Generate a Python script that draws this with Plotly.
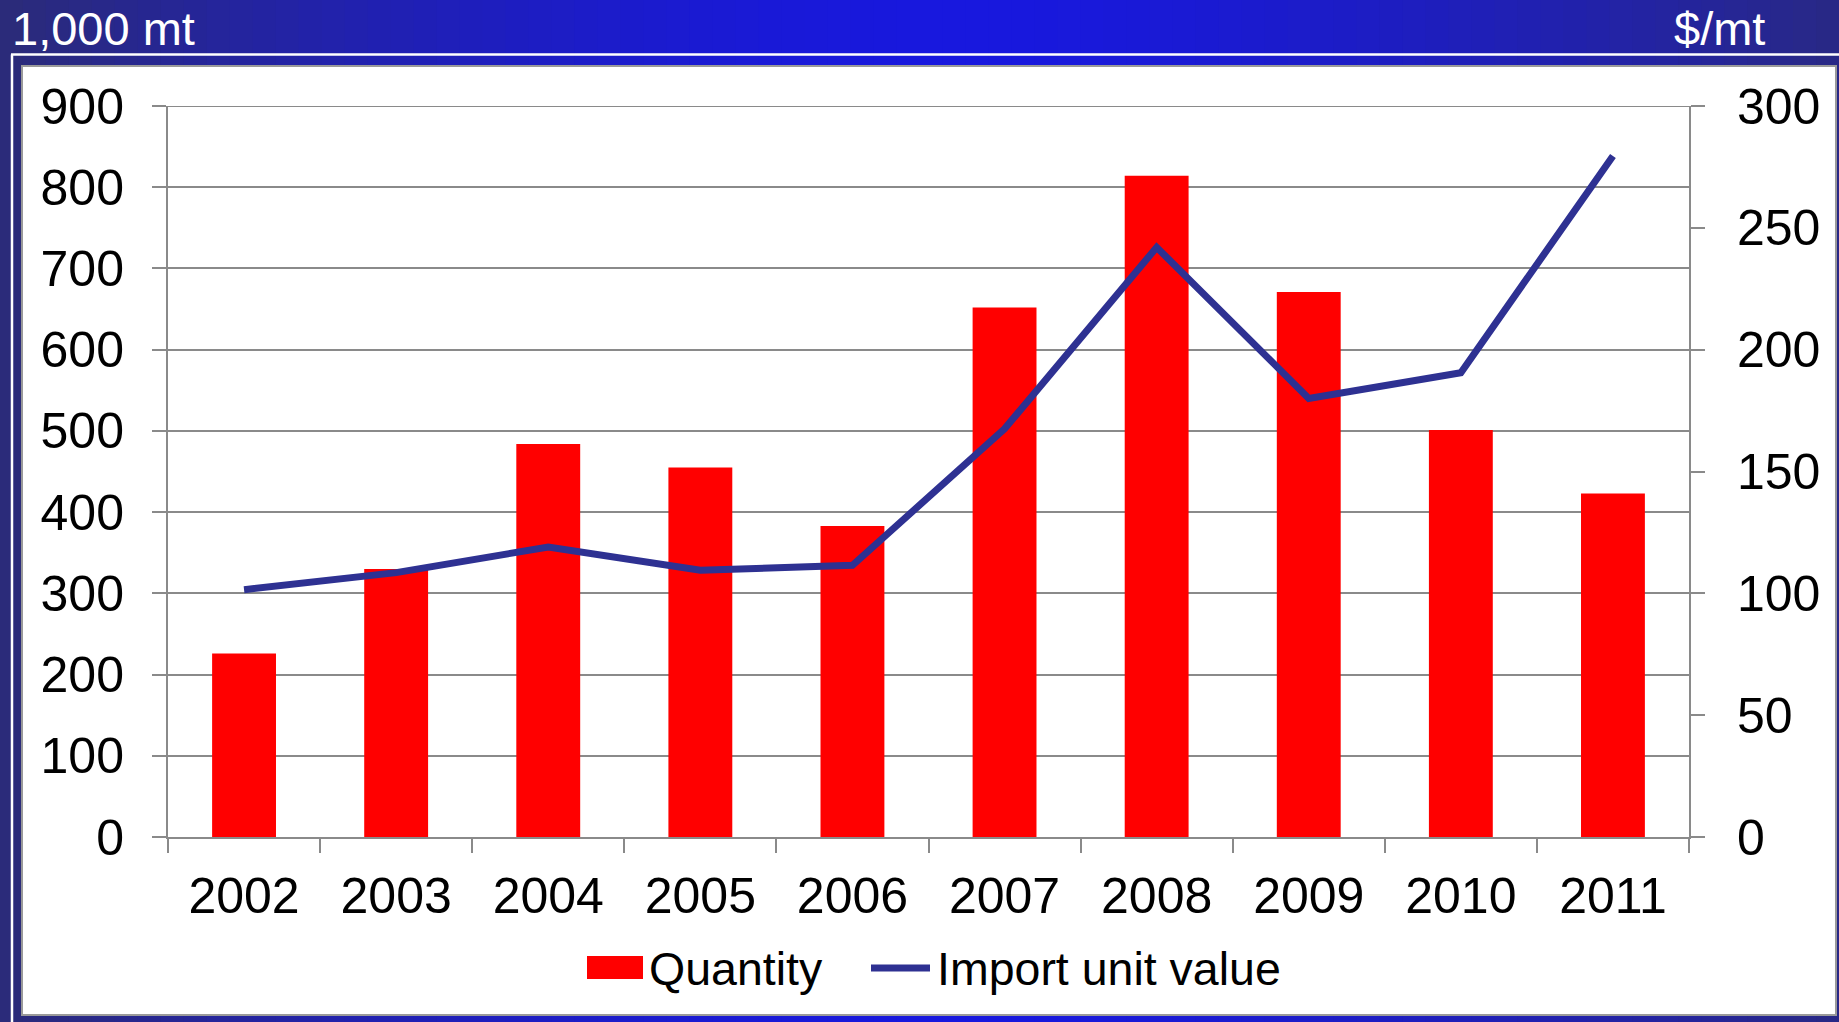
import plotly.graph_objects as go

years = ["2002", "2003", "2004", "2005", "2006", "2007", "2008", "2009", "2010", "2011"]
quantity = [226, 330, 484, 455, 383, 652, 814, 671, 501, 423]
unit_value = [101.5, 108.5, 119, 109.5, 111.5, 167.5, 242, 180, 190.5, 279.5]
left_ticks = [0, 100, 200, 300, 400, 500, 600, 700, 800, 900]
right_ticks = [0, 50, 100, 150, 200, 250, 300]

W, H = 1839, 1022
L, R, T, B = 168, 150, 106, 185
PW, PH = W - L - R, H - T - B

def px(x):
    return (x - L) / PW

def py(y):
    return (H - B - y) / PH

FONT = "Liberation Sans, Arial, sans-serif"
GRAY = "#8a8a8a"
LINE_COLOR = "#2E3192"
TICK_SIZE = 50

fig = go.Figure()
fig.add_trace(go.Bar(x=years, y=quantity, marker=dict(color="#FF0000", line=dict(width=0)),
                     name="Quantity", showlegend=False))
fig.add_trace(go.Scatter(x=years, y=unit_value, yaxis="y2", mode="lines",
                         line=dict(color=LINE_COLOR, width=7), name="Import unit value",
                         showlegend=False))

shapes = []
# horizontal gradient background
N = 80
def lerp(a, b, t):
    return int(round(a + (b - a) * t))
edge = (43, 43, 120)
mid = (24, 24, 222)
for i in range(N):
    t = (i + 0.5) / N
    d = abs(t - 0.52) / 0.52
    d = min(d, 1.0) ** 1.6
    c = tuple(lerp(mid[k], edge[k], d) for k in range(3))
    x0 = W * i / N
    x1 = W * (i + 1) / N + 1
    shapes.append(dict(type="rect", xref="paper", yref="paper", layer="below",
                       x0=px(x0), x1=px(x1), y0=py(H), y1=py(0),
                       fillcolor="rgb(%d,%d,%d)" % c, line=dict(width=0)))
# white frame lines
shapes.append(dict(type="line", xref="paper", yref="paper", layer="below",
                   x0=px(11), x1=px(W), y0=py(54.5), y1=py(54.5),
                   line=dict(color="white", width=2.5)))
shapes.append(dict(type="line", xref="paper", yref="paper", layer="below",
                   x0=px(12), x1=px(12), y0=py(54.5), y1=py(H),
                   line=dict(color="white", width=2.5)))
# white panel
shapes.append(dict(type="rect", xref="paper", yref="paper", layer="below",
                   x0=px(22), x1=px(1836), y0=py(1015), y1=py(66),
                   fillcolor="white", line=dict(color="#9a9a9a", width=2)))
# top gridline at the axis maximum
shapes.append(dict(type="line", xref="paper", yref="y", layer="below",
                   x0=0, x1=1, y0=left_ticks[-1], y1=left_ticks[-1],
                   line=dict(color=GRAY, width=2)))
# manual legend
shapes.append(dict(type="rect", xref="paper", yref="paper",
                   x0=px(587), x1=px(643), y0=py(979), y1=py(956),
                   fillcolor="#FF0000", line=dict(width=0)))
shapes.append(dict(type="line", xref="paper", yref="paper",
                   x0=px(871), x1=px(930), y0=py(968), y1=py(968),
                   line=dict(color=LINE_COLOR, width=7)))

annotations = [
    dict(text="1,000 mt", xref="paper", yref="paper", x=px(10), y=py(29),
         xanchor="left", yanchor="middle", showarrow=False,
         font=dict(family=FONT, size=47, color="white")),
    dict(text="$/mt", xref="paper", yref="paper", x=px(1767), y=py(29),
         xanchor="right", yanchor="middle", showarrow=False,
         font=dict(family=FONT, size=47, color="white")),
    dict(text="Quantity", xref="paper", yref="paper", x=px(647), y=py(969),
         xanchor="left", yanchor="middle", showarrow=False,
         font=dict(family=FONT, size=46.5, color="black")),
    dict(text="Import unit value", xref="paper", yref="paper", x=px(935), y=py(969),
         xanchor="left", yanchor="middle", showarrow=False,
         font=dict(family=FONT, size=46.5, color="black")),
]

fig.update_layout(
    width=W, height=H,
    margin=dict(l=L, r=R, t=T, b=B, pad=0),
    paper_bgcolor="rgb(43,43,120)",
    plot_bgcolor="rgba(0,0,0,0)",
    bargap=0.58,
    showlegend=False,
    shapes=shapes,
    annotations=annotations,
    font=dict(family=FONT, size=TICK_SIZE, color="black"),
    xaxis=dict(type="category", tickson="boundaries", ticks="outside", ticklen=14,
               tickwidth=2, tickcolor=GRAY, showline=True, linecolor=GRAY, linewidth=2,
               showgrid=False, tickfont=dict(size=TICK_SIZE, family=FONT, color="black"),
               ticklabelstandoff=14),
    yaxis=dict(range=[0, 900], tickvals=left_ticks, ticks="outside", ticklen=14,
               tickwidth=2, tickcolor=GRAY, showline=True, linecolor=GRAY, linewidth=2,
               showgrid=True, gridcolor=GRAY, gridwidth=2, zeroline=False,
               tickfont=dict(size=TICK_SIZE, family=FONT, color="black"), ticklabelstandoff=18),
    yaxis2=dict(range=[0, 300], tickvals=right_ticks, overlaying="y", side="right",
                ticks="outside", ticklen=14, tickwidth=2, tickcolor=GRAY, showline=True,
                linecolor=GRAY, linewidth=2, showgrid=False, zeroline=False,
                tickfont=dict(size=TICK_SIZE, family=FONT, color="black"), ticklabelstandoff=22),
)

fig.write_html("out.html", config={"displayModeBar": False},
               post_script="document.body.style.margin='0';")
